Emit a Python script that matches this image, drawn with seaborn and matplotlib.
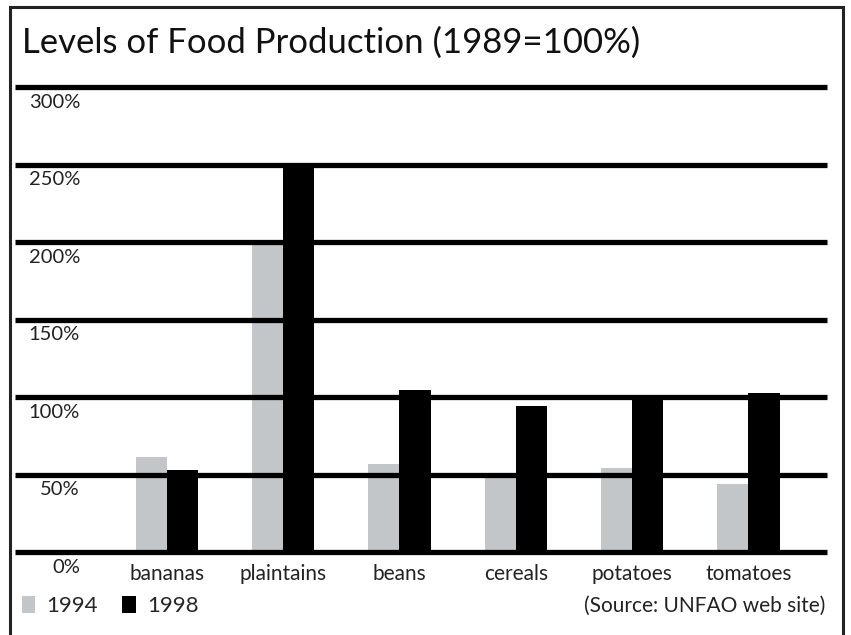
import numpy as np
import pandas as pd
import matplotlib
matplotlib.use("Agg")
import matplotlib.pyplot as plt
from matplotlib.patches import Rectangle, Patch
import seaborn as sns

# data
crops = ["bananas", "plaintains", "beans", "cereals", "potatoes", "tomatoes"]
vals_1994 = [61.5, 200, 57, 49.5, 54.5, 44]
vals_1998 = [53, 251, 104.5, 94, 100, 102.5]
years = ["1994", "1998"]
y_ticks = [0, 50, 100, 150, 200, 250, 300]
y_labels = ["0%", "50%", "100%", "150%", "200%", "250%", "300%"]

df = pd.DataFrame({
    "crop": crops * 2,
    "year": [years[0]] * len(crops) + [years[1]] * len(crops),
    "value": vals_1994 + vals_1998,
})

sns.set_theme(style="white")
plt.rcParams["font.family"] = ["Lato", "DejaVu Sans"]

W, H = 851, 635
fig = plt.figure(figsize=(W / 100, H / 100), dpi=100)
fig.patch.set_facecolor("white")

# plot area in pixels
x0, x1 = 15, 827
y_top, y_bot = 87, 552
ax = fig.add_axes([x0 / W, (H - y_bot) / H, (x1 - x0) / W, (y_bot - y_top) / H])

palette = {"1994": "#c3c6c8", "1998": "#000000"}
sns.barplot(data=df, x="crop", y="value", hue="year", order=crops,
            hue_order=years, palette=palette, width=0.535, dodge=True,
            saturation=1, ax=ax, legend=False, edgecolor="none", linewidth=0)

ax.set_xlim(-1.305, 5.675)
ax.set_ylim(0, 300)
for s in ax.spines.values():
    s.set_visible(False)
ax.set_xticks([])
ax.set_yticks([])
ax.set_xlabel("")
ax.set_ylabel("")
ax.patch.set_alpha(0)

# thick horizontal rules on top of bars
for t in y_ticks:
    ax.axhline(t, color="black", lw=3.8, zorder=5, clip_on=False,
               solid_capstyle="butt")

# y labels sit just below each rule, right-aligned
for t, lab in zip(y_ticks, y_labels):
    ax.annotate(lab, xy=(80 / W, t), xycoords=("figure fraction", "data"),
                xytext=(0, -5), textcoords="offset points",
                ha="right", va="top", fontsize=14.5, color="#222222")

# category labels under the baseline
for i, c in enumerate(crops):
    ax.annotate(c, xy=(i, 0), xytext=(0, -9), textcoords="offset points",
                ha="center", va="top", fontsize=15, color="#222222",
                annotation_clip=False)

fig.text(22 / W, 1 - 43 / H, "Levels of Food Production (1989=100%)",
         ha="left", va="center", fontsize=25, color="#111111")

handles = [Patch(facecolor=palette[y], edgecolor="none") for y in years]
fig.legend(handles, years, loc="center left",
           bbox_to_anchor=(22 / W, 1 - 606 / H), ncol=2, frameon=False,
           fontsize=16, handlelength=0.6, handleheight=0.8,
           handletextpad=0.5, columnspacing=1.1, borderaxespad=0,
           borderpad=0)

fig.text(825 / W, 1 - 606 / H, "(Source: UNFAO web site)",
         ha="right", va="center", fontsize=15, color="#222222")

# frame, open at the bottom edge
fig.patches.append(Rectangle((10 / W, -0.05), (843 - 10) / W, 1.05 - 7 / H,
                             transform=fig.transFigure, fill=False,
                             edgecolor="#222222", lw=2.2))

fig.savefig("out.png", dpi=100, facecolor="white")
